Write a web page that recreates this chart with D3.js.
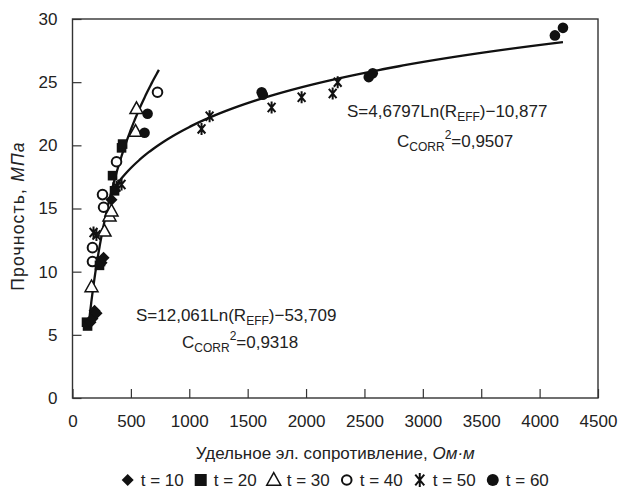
<!DOCTYPE html>
<html><head><meta charset="utf-8">
<script src="https://cdn.jsdelivr.net/npm/d3@7"></script>
<style>
html,body{margin:0;padding:0;background:#fff;}
svg{display:block;font-family:"Liberation Sans",Arial,Helvetica,sans-serif;}
</style></head>
<body><svg id="c" width="619" height="490"></svg>
<script>
// ---- data ----
const xTicks = [0,500,1000,1500,2000,2500,3000,3500,4000,4500];
const yTicks = [0,5,10,15,20,25,30];
const legendLabels = ["t = 10","t = 20","t = 30","t = 40","t = 50","t = 60"];
const t10R = [154,171,189,206,249,266,334];
const t10S = [6.0,6.3,6.9,6.7,10.7,11.1,15.7];
const t20R = [120,129,231,240,343,360,420,429];
const t20S = [6.0,5.7,10.5,10.8,17.6,16.4,19.8,20.1];
const t30R = [163,274,317,334,540,548];
const t30S = [8.8,13.2,14.4,14.8,21.1,22.9];
const t40R = [171,171,257,266,377,728];
const t40S = [10.8,11.9,16.1,15.1,18.7,24.2];
const t50R = [180,205,377,420,1105,1174,1705,1962,2228,2271];
const t50S = [13.1,12.9,16.7,16.9,21.3,22.3,23.0,23.8,24.1,25.0];
const t60R = [617,643,1620,1630,2537,2571,4131,4200];
const t60S = [21.0,22.5,24.2,24.0,25.4,25.7,28.7,29.3];
// trend lines: S = a*ln(R) + b over range [r0, r1]
const fitA = [12.061, 4.6797];
const fitB = [-53.709, -10.877];
const fitRange = [[139,740],[330,4200]];

// ---- layout ----
const svg = d3.select("#c");
const L = 72.5, R = 598, T = 19, B = 398;
const x = d3.scaleLinear().domain([0,4500]).range([L,R]);
const y = d3.scaleLinear().domain([0,30]).range([B,T]);
const ink = "#111";
const FS = 17;

// frame
svg.append("rect").attr("x",L).attr("y",T).attr("width",R-L).attr("height",B-T)
  .attr("fill","none").attr("stroke","#333").attr("stroke-width",1.4);

// axes (ticks inside)
const xa = svg.append("g").attr("transform",`translate(0,${B})`)
  .call(d3.axisBottom(x).tickValues(xTicks).tickSize(-9).tickPadding(17).tickFormat(d3.format("d")));
const ya = svg.append("g").attr("transform",`translate(${L},0)`)
  .call(d3.axisLeft(y).tickValues(yTicks).tickSize(-9).tickPadding(15));
[xa,ya].forEach(g=>{
  g.select(".domain").remove();
  g.selectAll("line").attr("stroke","#333").attr("stroke-width",1.2);
  g.selectAll("text").attr("font-size",FS).attr("fill","#222")
   .attr("font-family","'Liberation Sans',Arial,sans-serif");
});

// axis titles
const xt = svg.append("text").attr("x",(L+R)/2).attr("y",459).attr("text-anchor","middle")
  .attr("font-size",FS).attr("fill","#222");
xt.append("tspan").text("Удельное эл. сопротивление, ");
xt.append("tspan").attr("font-style","italic").text("Ом·м");
const yt = svg.append("text").attr("transform","translate(24,216) rotate(-90)")
  .attr("text-anchor","middle").attr("font-size",17.5).attr("letter-spacing",1.2).attr("fill","#222");
yt.append("tspan").text("Прочность, ");
yt.append("tspan").attr("font-style","italic").text("МПа");

// trend lines
const line = d3.line().x(d=>x(d[0])).y(d=>y(d[1])).curve(d3.curveLinear);
fitA.forEach((a,i)=>{
  const [r0,r1] = fitRange[i];
  const pts = d3.range(0,201).map(k=>{const r = r0*Math.pow(r1/r0,k/200); return [r, a*Math.log(r)+fitB[i]];});
  svg.append("path").attr("d",line(pts)).attr("fill","none").attr("stroke",ink).attr("stroke-width",2.3);
});

// marker drawers
function diamond(g,s){g.append("path").attr("d",`M0,${-s}L${s},0L0,${s}L${-s},0Z`).attr("fill",ink);}
function square(g,s){g.append("rect").attr("x",-s).attr("y",-s).attr("width",2*s).attr("height",2*s).attr("fill",ink);}
function tri(g,s){g.append("path").attr("d",`M0,${-s*1.05}L${s},${s*0.75}L${-s},${s*0.75}Z`).attr("fill","#fff").attr("stroke",ink).attr("stroke-width",1.5);}
function ocircle(g,s){g.append("circle").attr("r",s).attr("fill","#fff").attr("stroke",ink).attr("stroke-width",2);}
function star(g,s){
  const a = 50*Math.PI/180;
  g.append("path").attr("d",`M0,${-s}L0,${s}M${-s*Math.cos(a)},${-s*Math.sin(a)}L${s*Math.cos(a)},${s*Math.sin(a)}M${-s*Math.cos(a)},${s*Math.sin(a)}L${s*Math.cos(a)},${-s*Math.sin(a)}`)
   .attr("stroke",ink).attr("stroke-width",2).attr("fill","none");
}
function fcircle(g,s){g.append("circle").attr("r",s).attr("fill",ink);}

const series = [
  {R:t50R,S:t50S,f:star,s:6},
  {R:t30R,S:t30S,f:tri,s:6.5},
  {R:t40R,S:t40S,f:ocircle,s:4.8},
  {R:t20R,S:t20S,f:square,s:4.8},
  {R:t10R,S:t10S,f:diamond,s:6},
  {R:t60R,S:t60S,f:fcircle,s:5.3}
];
series.forEach(se=>{
  se.R.forEach((r,i)=>{
    const g = svg.append("g").attr("transform",`translate(${x(r)},${y(se.S[i])})`);
    se.f(g,se.s);
  });
});

// annotations
function eq(xp,yp,a,b){
  const t = svg.append("text").attr("x",xp).attr("y",yp).attr("font-size",FS).attr("fill","#222");
  t.append("tspan").text(`S=${a}Ln(R`);
  t.append("tspan").attr("font-size",12).attr("dy",4).text("EFF");
  t.append("tspan").attr("dy",-4).text(`)−${b}`);
}
function corr(xp,yp,v){
  const t = svg.append("text").attr("x",xp).attr("y",yp).attr("font-size",FS).attr("fill","#222");
  t.append("tspan").text("C");
  t.append("tspan").attr("font-size",12).attr("dy",4).text("CORR");
  t.append("tspan").attr("font-size",12).attr("dy",-12).text("2");
  t.append("tspan").attr("dy",8).text(`=${v}`);
}
eq(347,117,"4,6797","10,877");
corr(397,147,"0,9507");
eq(136,321,"12,061","53,709");
corr(182,348,"0,9318");

// legend
const markers = [diamond,square,tri,ocircle,star,fcircle];
const lg = svg.append("g");
let cx = 0;
legendLabels.forEach((lab,i)=>{
  const g = lg.append("g").attr("transform",`translate(${cx},0)`);
  markers[i](g.append("g"), i===2?7:(i===3?4.8:(i===4?7:6)));
  const tx = g.append("text").attr("x",13).attr("y",6).attr("font-size",FS).attr("fill","#222").text(lab);
  cx += 13 + tx.node().getComputedTextLength() + 17;
});
const lw = cx - 17 + 6;
lg.attr("transform",`translate(${(L+R)/2 - lw/2 + 6},480)`);
</script></body></html>
